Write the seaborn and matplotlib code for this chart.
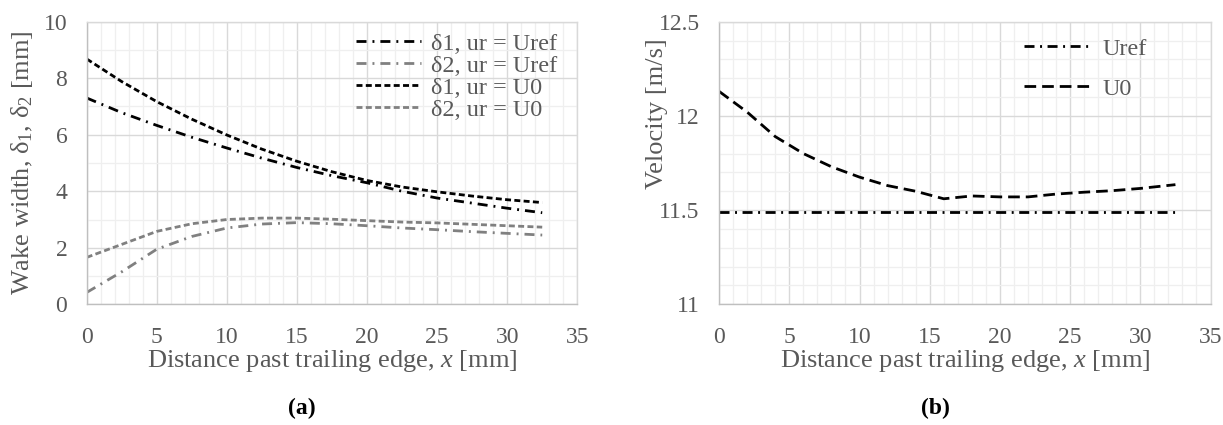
import matplotlib
matplotlib.use("Agg")
import matplotlib.pyplot as plt
from matplotlib.ticker import MultipleLocator, FuncFormatter
import pandas as pd
import seaborn as sns

# Wake measurements along the trailing-edge distance
x_mm = [0, 2.5, 5, 7.5, 10, 12.5, 15, 17.5, 20, 22.5, 25, 27.5, 30, 32.5]
d1_uref = [7.30, 6.78, 6.33, 5.91, 5.53, 5.17, 4.84, 4.55, 4.30, 4.00, 3.76, 3.58, 3.40, 3.24]
d2_uref = [0.42, 1.15, 1.95, 2.40, 2.70, 2.84, 2.89, 2.85, 2.78, 2.70, 2.64, 2.57, 2.51, 2.45]
d1_u0 = [8.68, 7.88, 7.17, 6.55, 5.99, 5.49, 5.06, 4.69, 4.38, 4.15, 3.98, 3.83, 3.70, 3.60]
d2_u0 = [1.66, 2.12, 2.58, 2.85, 3.00, 3.05, 3.05, 3.01, 2.96, 2.91, 2.88, 2.83, 2.78, 2.73]

# Reference velocities
xv_mm = [0, 2, 4, 6, 8, 10, 12, 14, 16, 18, 20, 22, 24, 26, 28, 30, 32.5]
u_ref = [11.49] * len(xv_mm)
u_0 = [12.13, 12.02, 11.89, 11.80, 11.73, 11.675, 11.63, 11.60, 11.56, 11.575,
       11.57, 11.57, 11.585, 11.595, 11.603, 11.615, 11.635]

sns.set_theme(style="white")
plt.rcParams["font.family"] = ["Liberation Serif", "DejaVu Serif"]
plt.rcParams["mathtext.fontset"] = "custom"
plt.rcParams["mathtext.rm"] = "Liberation Serif"
plt.rcParams["mathtext.it"] = "Liberation Serif:italic"
plt.rcParams["lines.scale_dashes"] = False

TXT = "#595959"
GRAY = "#808080"
MAJ = "#d9d9d9"
MIN = "#efefef"
TICK_FS = 17
LABEL_FS = 19
LEG_FS = 17.5

fig = plt.figure(figsize=(12.23, 4.25), dpi=100)
ax1 = fig.add_axes([0.0709, 0.284, 0.4011, 0.665])
ax2 = fig.add_axes([0.588, 0.284, 0.4018, 0.665])

DASHDOT = (7.2, 4.3, 1.4, 4.3)
SHORTDASH = (4.3, 2.4)
LONGDASH = (8.4, 4.3)
DASHDOT_B = (7.2, 4.0, 1.4, 4.0)

left_series = [
    ("δ1, ur = Uref", d1_uref, "black", DASHDOT),
    ("δ2, ur = Uref", d2_uref, GRAY, DASHDOT),
    ("δ1, ur = U0", d1_u0, "black", SHORTDASH),
    ("δ2, ur = U0", d2_u0, GRAY, SHORTDASH),
]
for name, vals, col, dash in left_series:
    df = pd.DataFrame({"x": x_mm, "y": vals})
    sns.lineplot(data=df, x="x", y="y", ax=ax1, color=col, linewidth=2.0, label=name)
    ax1.lines[-1].set_dashes(dash)

right_series = [
    ("Uref", u_ref, "black", DASHDOT_B),
    ("U0", u_0, "black", LONGDASH),
]
for name, vals, col, dash in right_series:
    df = pd.DataFrame({"x": xv_mm, "y": vals})
    sns.lineplot(data=df, x="x", y="y", ax=ax2, color=col, linewidth=2.0, label=name)
    ax2.lines[-1].set_dashes(dash)


def style_axes(ax, ylim, ymajor, yminor):
    ax.set_xlim(0, 35)
    ax.set_ylim(*ylim)
    ax.xaxis.set_major_locator(MultipleLocator(5))
    ax.xaxis.set_minor_locator(MultipleLocator(1))
    ax.yaxis.set_major_locator(MultipleLocator(ymajor))
    ax.yaxis.set_minor_locator(MultipleLocator(yminor))
    ax.grid(True, which="major", color=MAJ, linewidth=1.0, zorder=0)
    ax.grid(True, which="minor", color=MIN, linewidth=0.9, zorder=0)
    ax.set_axisbelow(True)
    for s in ax.spines.values():
        s.set_color(MAJ)
        s.set_linewidth(1.0)
    ax.spines["left"].set_color("#bfbfbf")
    ax.spines["bottom"].set_color("#bfbfbf")
    ax.tick_params(axis="both", which="both", length=0, labelsize=TICK_FS,
                   labelcolor=TXT)
    ax.tick_params(axis="y", pad=14)
    ax.tick_params(axis="x", pad=16)
    ax.set_xlabel("Distance past trailing edge, $x$ [mm]", fontsize=LABEL_FS,
                  color=TXT, labelpad=0)


style_axes(ax1, (0, 10), 2, 1)
style_axes(ax2, (11, 12.5), 0.5, 0.1)
ax2.yaxis.set_major_formatter(FuncFormatter(lambda v, p: f"{v:g}"))

ax1.set_ylabel("Wake width, δ$_1$, δ$_2$ [mm]", fontsize=LABEL_FS, color=TXT)
ax1.yaxis.set_label_coords(-0.106, 0.5)
ax2.set_ylabel("Velocity [m/s]", fontsize=LABEL_FS, color=TXT)
ax2.yaxis.set_label_coords(-0.104, 0.676)

leg1 = ax1.legend(loc="upper right", bbox_to_anchor=(0.959, 0.961), frameon=False,
                  fontsize=LEG_FS, handlelength=2.67, handletextpad=0.41,
                  labelspacing=0.0, borderaxespad=0, borderpad=0)
leg2 = ax2.legend(loc="upper right", bbox_to_anchor=(0.87, 0.944), frameon=False,
                  fontsize=LEG_FS, handlelength=2.84, handletextpad=0.37,
                  labelspacing=0.76, borderaxespad=0, borderpad=0)
for leg in (leg1, leg2):
    for t in leg.get_texts():
        t.set_color(TXT)

fig.text(0.2467, 0.04, "(a)", ha="center", va="center", fontsize=17,
         fontweight="bold", color="black")
fig.text(0.7645, 0.04, "(b)", ha="center", va="center", fontsize=17,
         fontweight="bold", color="black")

fig.savefig("out.png", dpi=100)
